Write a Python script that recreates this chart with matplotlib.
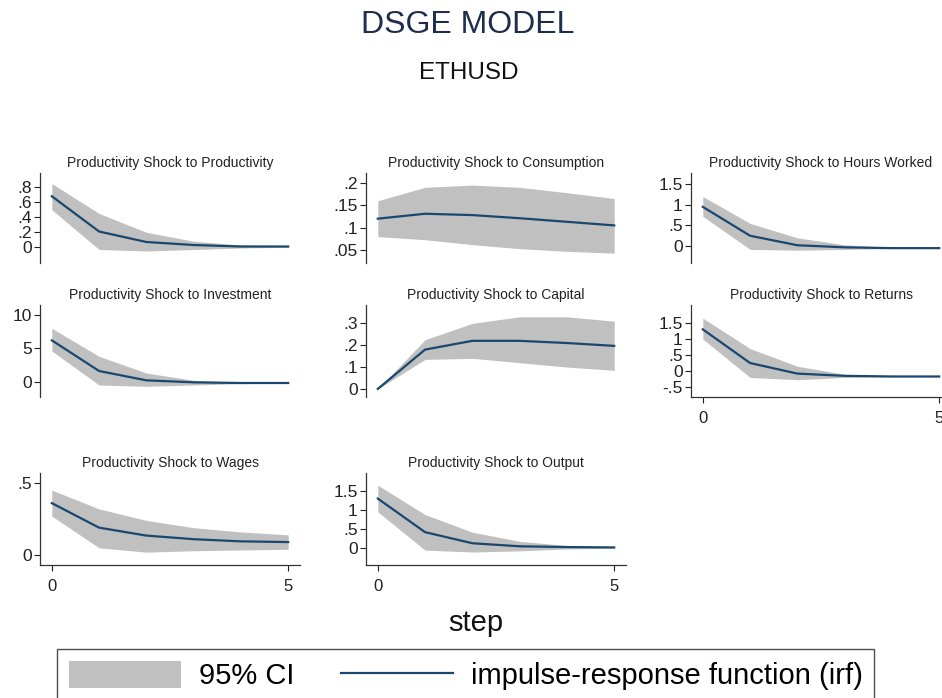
import matplotlib
matplotlib.use("Agg")
import matplotlib.pyplot as plt
from matplotlib.patches import Patch
from matplotlib.lines import Line2D

plt.rcParams['font.family'] = ['Liberation Sans', 'DejaVu Sans']

steps = [0, 1, 2, 3, 4, 5]

titles = [
    "Productivity Shock to Productivity",
    "Productivity Shock to Consumption",
    "Productivity Shock to Hours Worked",
    "Productivity Shock to Investment",
    "Productivity Shock to Capital",
    "Productivity Shock to Returns",
    "Productivity Shock to Wages",
    "Productivity Shock to Output",
]

# irf point estimates
irf_productivity = [0.68, 0.21, 0.07, 0.03, 0.01, 0.01]
irf_consumption = [0.120, 0.131, 0.128, 0.121, 0.113, 0.105]
irf_hours = [0.95, 0.25, 0.02, -0.03, -0.05, -0.05]
irf_investment = [6.2, 1.6, 0.2, -0.1, -0.2, -0.2]
irf_capital = [0.0, 0.18, 0.22, 0.22, 0.21, 0.197]
irf_returns = [1.30, 0.25, -0.08, -0.15, -0.17, -0.17]
irf_wages = [0.36, 0.19, 0.135, 0.11, 0.095, 0.09]
irf_output = [1.30, 0.42, 0.13, 0.05, 0.03, 0.02]

# 95% CI bounds
lo_productivity = [0.50, -0.03, -0.05, -0.03, -0.01, 0.0]
hi_productivity = [0.85, 0.45, 0.20, 0.08, 0.03, 0.01]
lo_consumption = [0.080, 0.073, 0.062, 0.053, 0.047, 0.043]
hi_consumption = [0.160, 0.190, 0.195, 0.190, 0.178, 0.165]
lo_hours = [0.72, -0.08, -0.10, -0.08, -0.06, -0.05]
hi_hours = [1.20, 0.55, 0.20, 0.03, -0.03, -0.05]
lo_investment = [4.6, -0.5, -0.7, -0.5, -0.3, -0.2]
hi_investment = [8.0, 3.8, 1.3, 0.2, -0.1, -0.2]
lo_capital = [0.0, 0.135, 0.14, 0.12, 0.10, 0.085]
hi_capital = [0.0, 0.225, 0.30, 0.33, 0.33, 0.31]
lo_returns = [1.00, -0.20, -0.27, -0.20, -0.18, -0.18]
hi_returns = [1.65, 0.70, 0.15, -0.10, -0.15, -0.15]
lo_wages = [0.27, 0.05, 0.02, 0.03, 0.035, 0.04]
hi_wages = [0.45, 0.32, 0.24, 0.19, 0.16, 0.14]
lo_output = [0.95, -0.05, -0.10, -0.07, -0.02, 0.0]
hi_output = [1.65, 0.88, 0.42, 0.18, 0.07, 0.03]

irfs = [irf_productivity, irf_consumption, irf_hours, irf_investment,
        irf_capital, irf_returns, irf_wages, irf_output]
los = [lo_productivity, lo_consumption, lo_hours, lo_investment,
       lo_capital, lo_returns, lo_wages, lo_output]
his = [hi_productivity, hi_consumption, hi_hours, hi_investment,
       hi_capital, hi_returns, hi_wages, hi_output]

ytick_vals = [
    [0, 0.2, 0.4, 0.6, 0.8],
    [0.05, 0.1, 0.15, 0.2],
    [0, 0.5, 1, 1.5],
    [0, 5, 10],
    [0, 0.1, 0.2, 0.3],
    [-0.5, 0, 0.5, 1, 1.5],
    [0, 0.5],
    [0, 0.5, 1, 1.5],
]
ytick_labels = [
    ["0", ".2", ".4", ".6", ".8"],
    [".05", ".1", ".15", ".2"],
    ["0", ".5", "1", "1.5"],
    ["0", "5", "10"],
    ["0", ".1", ".2", ".3"],
    ["-.5", "0", ".5", "1", "1.5"],
    ["0", ".5"],
    ["0", ".5", "1", "1.5"],
]

# axis ranges and layout (pixels of a 942x698 canvas)
ylims = [(-0.21, 0.99), (0.021, 0.222), (-0.41, 1.77), (-2.3, 11.5),
         (-0.037, 0.384), (-0.81, 2.06), (-0.069, 0.569), (-0.44, 1.97)]
col_left = [40, 366, 691]
row_span = [(173, 263), (305, 397), (473, 565)]
with_xaxis = [False, False, False, False, False, True, True, True]

W, H = 942, 698
ci_color = "#c0c0c0"
line_color = "#1a476f"

fig = plt.figure(figsize=(W / 100, H / 100), dpi=100)

for i in range(8):
    r, c = divmod(i, 3)
    top, bot = row_span[r]
    ax = fig.add_axes([col_left[c] / W, 1 - bot / H, 260 / W, (bot - top) / H])
    ax.fill_between(steps, los[i], his[i], color=ci_color, linewidth=0)
    ax.plot(steps, irfs[i], color=line_color, linewidth=1.6)
    ax.set_xlim(-0.25, 5.25)
    ax.set_ylim(*ylims[i])
    ax.set_yticks(ytick_vals[i])
    ax.set_yticklabels(ytick_labels[i])
    ax.tick_params(axis='y', length=4.5, width=0.8, pad=1.5, labelsize=12.5,
                   colors="#222222")
    for s in ["top", "right"]:
        ax.spines[s].set_visible(False)
    ax.spines["left"].set_linewidth(0.9)
    ax.spines["left"].set_color("#333333")
    if with_xaxis[i]:
        ax.set_xticks([0, 5])
        ax.tick_params(axis='x', length=4, width=0.8, pad=6, labelsize=12,
                       colors="#222222")
        ax.spines["bottom"].set_linewidth(0.9)
        ax.spines["bottom"].set_color("#333333")
    else:
        ax.spines["bottom"].set_visible(False)
        ax.set_xticks([])
    ax.set_title(titles[i], fontsize=10, pad=4, color="#222222")

fig.text(468 / W, 1 - 25 / H, "DSGE MODEL", ha="center", va="center",
         fontsize=23, color="#1f2d4d")
fig.text(469 / W, 1 - 73 / H, "ETHUSD", ha="center", va="center",
         fontsize=17.5, color="#111111")
fig.text(476 / W, 1 - 623 / H, "step", ha="center", va="center",
         fontsize=21, color="#111111")

handles = [Patch(facecolor=ci_color, edgecolor="none"),
           Line2D([], [], color=line_color, linewidth=1.6)]
leg = fig.legend(handles, ["95% CI", "impulse-response function (irf)"],
                 loc="upper left", bbox_to_anchor=(57 / W, 1 - 649 / H),
                 ncol=2, fontsize=21, frameon=True, fancybox=False,
                 handlelength=3.83, handleheight=1.03, handletextpad=0.62,
                 columnspacing=1.6, borderpad=0.41, borderaxespad=0)
leg.get_frame().set_edgecolor("#222222")
leg.get_frame().set_linewidth(1.0)

fig.savefig("out.png", dpi=100)
